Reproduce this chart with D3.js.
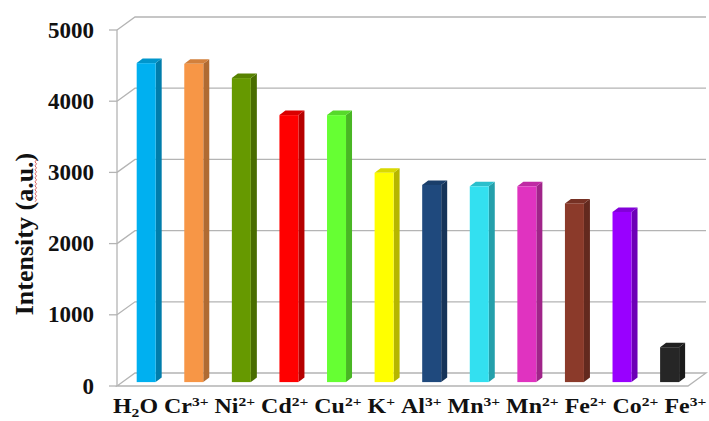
<!DOCTYPE html>
<html>
<head>
<meta charset="utf-8">
<script src="https://cdn.jsdelivr.net/npm/d3@7/dist/d3.min.js"></script>
<style>
  html, body { margin: 0; padding: 0; background: #fff; }
  svg { display: block; }
  text { font-family: "Liberation Serif", "Times New Roman", serif; font-weight: bold; fill: #111; }
</style>
</head>
<body>
<svg id="chart" width="709" height="421"></svg>
<script>
// Ions tested; "_n" marks a subscript, "^n+" a charge superscript
const categories = ["H_2O", "Cr^3+", "Ni^2+", "Cd^2+", "Cu^2+", "K^+", "Al^3+", "Mn^3+", "Mn^2+", "Fe^2+", "Co^2+", "Fe^3+"];
// Fluorescence intensity (a.u.) for each ion
const intensity = [4480, 4470, 4270, 3750, 3750, 2940, 2770, 2750, 2750, 2510, 2390, 490];
const barColors = ["#00B0F0", "#F79646", "#669900", "#FF0000", "#66FF33", "#FFFF00", "#1F497D", "#33E0F0", "#E033C0", "#8B3A2A", "#9900FF", "#262626"];
const yTicks = [0, 1000, 2000, 3000, 4000, 5000];
const yTitle = "Intensity (a.u.)";

const svg = d3.select("#chart");

// front plane of the 3-D box and its depth offset
const X0 = 117, X1 = 688;
const DX = 18, DY = -13;
const y = d3.scaleLinear().domain([0, 5000]).range([386, 30]);
const x = d3.scaleBand().domain(categories).range([X0, X1]);

const grid = svg.append("g").attr("fill", "none").attr("stroke", "#B4B4B4").attr("stroke-width", 1.3);

// floor
grid.append("path")
  .attr("d", `M${X0},${y(0)}L${X1},${y(0)}L${X1 + DX},${y(0) + DY}L${X0 + DX},${y(0) + DY}Z`);

// back-wall gridlines with their diagonal return to the axis
yTicks.filter(t => t > 0).forEach(t => {
  grid.append("path")
    .attr("d", `M${X0},${y(t)}L${X0 + DX},${y(t) + DY}L${X1 + DX},${y(t) + DY}`);
});

// vertical axis and tick marks
grid.append("line").attr("x1", X0).attr("x2", X0).attr("y1", y(5000)).attr("y2", y(0));
yTicks.forEach(t => {
  grid.append("line").attr("x1", X0 - 8).attr("x2", X0).attr("y1", y(t)).attr("y2", y(t));
});

// tick labels
svg.append("g").selectAll("text").data(yTicks).join("text")
  .attr("x", 94).attr("y", d => y(d))
  .attr("text-anchor", "end")
  .attr("dominant-baseline", "central")
  .attr("font-size", 23)
  .text(d => d);

// bars sit 30% of the way into the depth
const f = 0.3;
const ox = DX * f, oy = DY * f;
const bw = 19, sdx = 6, sdy = -4.5;

const bars = svg.append("g").selectAll("g").data(categories).join("g");
bars.each(function (c, i) {
  const g = d3.select(this);
  const col = d3.color(barColors[i]);
  const xl = x(c) + x.bandwidth() / 2 + ox - bw / 2;
  const xr = xl + bw;
  const top = y(intensity[i]) + oy;
  const base = y(0) + oy;
  // side face
  g.append("path")
    .attr("d", `M${xr},${top}L${xr + sdx},${top + sdy}L${xr + sdx},${base + sdy}L${xr},${base}Z`)
    .attr("fill", col.darker(0.95).formatHex());
  // top face
  g.append("path")
    .attr("d", `M${xl},${top}L${xl + sdx},${top + sdy}L${xr + sdx},${top + sdy}L${xr},${top}Z`)
    .attr("fill", col.darker(0.45).formatHex());
  // front face
  g.append("rect")
    .attr("x", xl).attr("y", top)
    .attr("width", bw).attr("height", base - top)
    .attr("fill", col.formatHex());
});

// category labels written as one line of text;
// each run carries the vertical shift relative to the previous run
const labelRow = svg.append("g");
const labelText = labelRow.append("text").attr("font-size", 20);
let shift = 0;
function run(str, target, size) {
  const t = labelText.append("tspan").attr("dy", target - shift).text(str);
  if (size) t.attr("font-size", size);
  shift = target;
}
categories.forEach((c, i) => {
  if (i > 0) run(" ", 0);
  c.split(/(_\d+|\^[\d+]+)/).filter(p => p.length).forEach(p => {
    if (p[0] === "_") run(p.slice(1), 4, 13);
    else if (p[0] === "^") run(p.slice(1), -7, 13);
    else run(p, 0);
  });
});
const natural = labelText.node().getComputedTextLength();
const rowStart = 113, rowEnd = 705;
labelRow.attr("transform", `translate(${rowStart},413) scale(${(rowEnd - rowStart) / natural},1)`);

// axis title
const title = svg.append("text")
  .attr("transform", "translate(24,234) rotate(-90)")
  .attr("text-anchor", "middle")
  .attr("dominant-baseline", "central")
  .attr("font-size", 26)
  .text(yTitle);

// wavy spell-check underline beneath "a.u."
const tn = title.node();
const k = yTitle.indexOf("a.u.");
const total = tn.getComputedTextLength();
const s0 = tn.getSubStringLength(0, k) - total / 2;
const sl = tn.getSubStringLength(k, 4);
let wave = `M${s0},0`;
for (let t = 0; t < sl; t += 2) wave += `L${s0 + t + 2},${(t / 2) % 2 ? 0 : 1.5}`;
svg.append("path")
  .attr("transform", "translate(24,234) rotate(-90) translate(0,11)")
  .attr("d", wave)
  .attr("fill", "none")
  .attr("stroke", "#D04040")
  .attr("stroke-width", 0.8);
</script>
</body>
</html>
